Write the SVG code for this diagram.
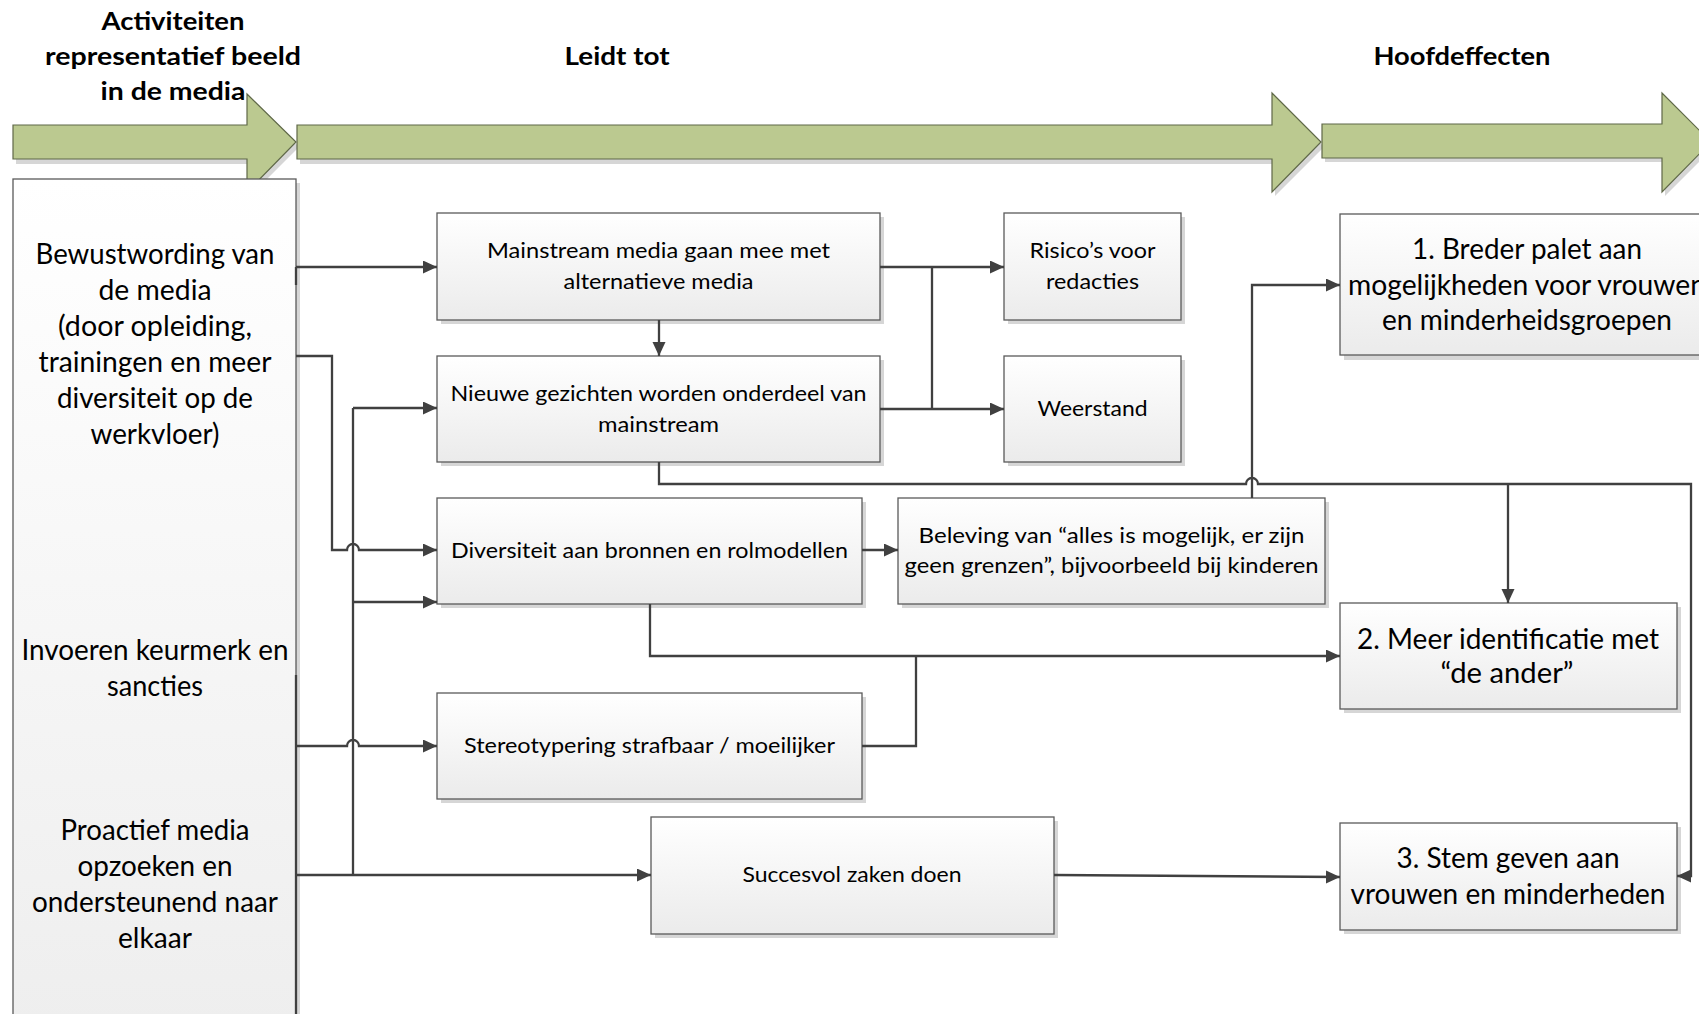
<svg xmlns="http://www.w3.org/2000/svg" width="1699" height="1014" viewBox="0 0 1699 1014">
<defs>
<linearGradient id="g" x1="0" y1="0" x2="0" y2="1"><stop offset="0" stop-color="#ffffff"/><stop offset="1" stop-color="#ebebeb"/></linearGradient>
<linearGradient id="gl" x1="0" y1="0" x2="0" y2="1"><stop offset="0" stop-color="#ffffff"/><stop offset="1" stop-color="#eeeeee"/></linearGradient>
<marker id="ah" markerUnits="userSpaceOnUse" markerWidth="15" markerHeight="14" refX="14" refY="6.5" orient="auto"><path d="M0,0 L14,6.5 L0,13 z" fill="#404040"/></marker>
</defs>
<style>
.sh{fill:#d6d6d6;}
.box{fill:url(#g);stroke:#5a5a5a;stroke-width:1.3;}
.arr{fill:#bbc990;stroke:#5f6848;stroke-width:1.2;}
.c{fill:none;stroke:#404040;stroke-width:2.3;}
.ca{marker-end:url(#ah);}
text{font-family:Lato,"Open Sans",sans-serif;fill:#000;text-anchor:middle;}
.t{font-weight:bold;font-size:25px;}
.l{font-size:28px;}
.m{font-size:21px;}
</style>
<rect width="1699" height="1014" fill="#ffffff"/>

<g id="titles">
<text class="t" x="173" y="30" textLength="143" lengthAdjust="spacingAndGlyphs">Activiteiten</text>
<text class="t" x="173" y="65" textLength="256" lengthAdjust="spacingAndGlyphs">representatief beeld</text>
<text class="t" x="173" y="100" textLength="145" lengthAdjust="spacingAndGlyphs">in de media</text>
<text class="t" x="617" y="65" textLength="105" lengthAdjust="spacingAndGlyphs">Leidt tot</text>
<text class="t" x="1462" y="65" textLength="177" lengthAdjust="spacingAndGlyphs">Hoofdeffecten</text>
</g>

<g id="phase-arrows">
<polygon class="sh" points="16,130 250,130 250,98 299,147 250,196 250,164 16,164"/>
<polygon class="arr" points="13,125 247,125 247,94 296,142 247,192 247,159 13,159"/>
<polygon class="sh" points="300,130 1275,130 1275,97 1324,147 1275,196 1275,164 300,164"/>
<polygon class="arr" points="297,125 1272,125 1272,93 1321,142 1272,192 1272,159 297,159"/>
<polygon class="sh" points="1325,128 1665,128 1665,97 1714,147 1665,196 1665,162 1325,162"/>
<polygon class="arr" points="1322,124 1662,124 1662,93 1711,142 1662,192 1662,158 1322,158"/>
</g>

<g id="activities">
<rect class="sh" x="17" y="183" width="283" height="850"/>
<rect x="13" y="179" width="283" height="850" fill="url(#gl)" stroke="#5a5a5a" stroke-width="1.3"/>
<text class="l" x="155" y="264" textLength="239" lengthAdjust="spacingAndGlyphs">Bewustwording van</text>
<text class="l" x="155" y="300" textLength="113" lengthAdjust="spacingAndGlyphs">de media</text>
<text class="l" x="155" y="336" textLength="194" lengthAdjust="spacingAndGlyphs">(door opleiding,</text>
<text class="l" x="155" y="372" textLength="233" lengthAdjust="spacingAndGlyphs">trainingen en meer</text>
<text class="l" x="155" y="408" textLength="196" lengthAdjust="spacingAndGlyphs">diversiteit op de</text>
<text class="l" x="155" y="444" textLength="129" lengthAdjust="spacingAndGlyphs">werkvloer)</text>
<text class="l" x="155" y="660" textLength="267" lengthAdjust="spacingAndGlyphs">Invoeren keurmerk en</text>
<text class="l" x="155" y="696" textLength="96" lengthAdjust="spacingAndGlyphs">sancties</text>
<text class="l" x="155" y="840" textLength="189" lengthAdjust="spacingAndGlyphs">Proactief media</text>
<text class="l" x="155" y="876" textLength="155" lengthAdjust="spacingAndGlyphs">opzoeken en</text>
<text class="l" x="155" y="912" textLength="246" lengthAdjust="spacingAndGlyphs">ondersteunend naar</text>
<text class="l" x="155" y="948" textLength="74" lengthAdjust="spacingAndGlyphs">elkaar</text>
</g>

<g id="b1">
<rect class="sh" x="441" y="217" width="443" height="107"/>
<rect class="box" x="437" y="213" width="443" height="107"/>
<text class="m" x="658.5" y="258" textLength="343" lengthAdjust="spacingAndGlyphs">Mainstream media gaan mee met</text>
<text class="m" x="658.5" y="289" textLength="190" lengthAdjust="spacingAndGlyphs">alternatieve media</text>
</g>
<g id="b2">
<rect class="sh" x="441" y="360" width="443" height="106"/>
<rect class="box" x="437" y="356" width="443" height="106"/>
<text class="m" x="658.5" y="401" textLength="416" lengthAdjust="spacingAndGlyphs">Nieuwe gezichten worden onderdeel van</text>
<text class="m" x="658.5" y="432" textLength="121" lengthAdjust="spacingAndGlyphs">mainstream</text>
</g>
<g id="b3">
<rect class="sh" x="441" y="502" width="425" height="106"/>
<rect class="box" x="437" y="498" width="425" height="106"/>
<text class="m" x="649.5" y="558" textLength="397" lengthAdjust="spacingAndGlyphs">Diversiteit aan bronnen en rolmodellen</text>
</g>
<g id="b4">
<rect class="sh" x="441" y="697" width="425" height="106"/>
<rect class="box" x="437" y="693" width="425" height="106"/>
<text class="m" x="649.5" y="753" textLength="371" lengthAdjust="spacingAndGlyphs">Stereotypering strafbaar / moeilijker</text>
</g>
<g id="b5">
<rect class="sh" x="655" y="821" width="403" height="117"/>
<rect class="box" x="651" y="817" width="403" height="117"/>
<text class="m" x="852" y="882" textLength="219" lengthAdjust="spacingAndGlyphs">Succesvol zaken doen</text>
</g>
<g id="r1">
<rect class="sh" x="1008" y="217" width="177" height="107"/>
<rect class="box" x="1004" y="213" width="177" height="107"/>
<text class="m" x="1092.5" y="258" textLength="126" lengthAdjust="spacingAndGlyphs">Risico’s voor</text>
<text class="m" x="1092.5" y="289" textLength="93" lengthAdjust="spacingAndGlyphs">redacties</text>
</g>
<g id="r2">
<rect class="sh" x="1008" y="360" width="177" height="106"/>
<rect class="box" x="1004" y="356" width="177" height="106"/>
<text class="m" x="1092.5" y="416" textLength="110" lengthAdjust="spacingAndGlyphs">Weerstand</text>
</g>
<g id="bl">
<rect class="sh" x="902" y="502" width="427" height="106"/>
<rect class="box" x="898" y="498" width="427" height="106"/>
<text class="m" x="1111.5" y="543" textLength="386" lengthAdjust="spacingAndGlyphs">Beleving van “alles is mogelijk, er zijn</text>
<text class="m" x="1111.5" y="573" textLength="414" lengthAdjust="spacingAndGlyphs">geen grenzen”, bijvoorbeeld bij kinderen</text>
</g>
<g id="e1">
<rect class="sh" x="1344" y="218" width="374" height="142"/>
<rect class="box" x="1340" y="214" width="374" height="141"/>
<text class="l" x="1527" y="259" textLength="230" lengthAdjust="spacingAndGlyphs">1. Breder palet aan</text>
<text class="l" x="1527" y="295" textLength="358" lengthAdjust="spacingAndGlyphs">mogelijkheden voor vrouwen</text>
<text class="l" x="1527" y="330" textLength="290" lengthAdjust="spacingAndGlyphs">en minderheidsgroepen</text>
</g>
<g id="e2">
<rect class="sh" x="1344" y="607" width="337" height="106"/>
<rect class="box" x="1340" y="603" width="337" height="106"/>
<text class="l" x="1508" y="649" textLength="302" lengthAdjust="spacingAndGlyphs">2. Meer identificatie met</text>
<text class="l" x="1507" y="683" textLength="133" lengthAdjust="spacingAndGlyphs">“de ander”</text>
</g>
<g id="e3">
<rect class="sh" x="1344" y="827" width="337" height="107"/>
<rect class="box" x="1340" y="823" width="337" height="107"/>
<text class="l" x="1508" y="868" textLength="223" lengthAdjust="spacingAndGlyphs">3. Stem geven aan</text>
<text class="l" x="1508" y="904" textLength="315" lengthAdjust="spacingAndGlyphs">vrouwen en minderheden</text>
</g>

<g id="connectors">
<path class="c" d="M296,267 V285"/>
<path class="c ca" d="M296,267 H437"/>
<path class="c ca" d="M296,356 H332 V550 H347 A6,6 0 0 1 359,550 H437"/>
<path class="c" d="M353,408 V875"/>
<path class="c ca" d="M353,408 H437"/>
<path class="c ca" d="M353,602 H437"/>
<path class="c ca" d="M296,875 H651"/>
<path class="c ca" d="M296,746 H347 A6,6 0 0 1 359,746 H437"/>
<path class="c" d="M296,675 V1014"/>
<path class="c ca" d="M659,320 V356"/>
<path class="c ca" d="M880,267 H1004"/>
<path class="c" d="M932,267 V409"/>
<path class="c ca" d="M880,409 H1004"/>
<path class="c ca" d="M659,462 V484 H1246 A6,6 0 0 1 1258,484 H1691 V876 H1677"/>
<path class="c ca" d="M1508,484 V603"/>
<path class="c ca" d="M1252,498 V285 H1340"/>
<path class="c ca" d="M650,604 V656 H1340"/>
<path class="c" d="M862,746 H916 V656"/>
<path class="c ca" d="M1054,875 L1340,877"/>
<path class="c ca" d="M862,550 H898"/>
</g>
</svg>
